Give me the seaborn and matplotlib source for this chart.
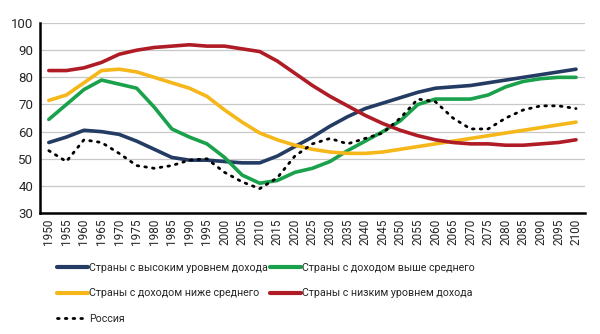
import numpy as np
import pandas as pd
import matplotlib
matplotlib.use("Agg")
import matplotlib.pyplot as plt
import seaborn as sns
from matplotlib.lines import Line2D

years = list(range(1950, 2101, 5))

high_income = [56, 58, 60.5, 60, 59, 56.5, 53.5, 50.5, 49.5, 49.5, 49, 48.5, 48.5, 51, 54.5,
               58, 62, 65.5, 68.5, 70.5, 72.5, 74.5, 76, 76.5, 77, 78, 79, 80, 81, 82, 83]
upper_middle = [64.5, 70, 75.5, 79, 77.5, 76, 69, 61, 58, 55.5, 50.5, 44, 41, 42, 45,
                46.5, 49, 53, 56.5, 60, 64, 70, 72, 72, 72, 73.5, 76.5, 78.5, 79.5, 80, 80]
lower_middle = [71.5, 73.5, 78, 82.5, 83, 82, 80, 78, 76, 73, 68, 63.5, 59.5, 57, 55,
                53.5, 52.5, 52, 52, 52.5, 53.5, 54.5, 55.5, 56.5, 57.5, 58.5, 59.5, 60.5, 61.5, 62.5, 63.5]
low_income = [82.5, 82.5, 83.5, 85.5, 88.5, 90, 91, 91.5, 92, 91.5, 91.5, 90.5, 89.5, 86, 81.5,
              77, 73, 69.5, 66, 63, 60.5, 58.5, 57, 56, 55.5, 55.5, 55, 55, 55.5, 56, 57]
russia = [53, 49, 57, 56, 52, 47.5, 46.5, 47.5, 49.5, 50, 45, 41.5, 39, 43, 51,
          55.5, 57.5, 55.5, 57.5, 59.5, 65, 72, 71, 65, 61, 61, 65, 68, 69.5, 69.5, 68.5]

labels = ["Страны с высоким уровнем дохода",
          "Страны с доходом выше среднего",
          "Страны с доходом ниже среднего",
          "Страны с низким уровнем дохода",
          "Россия"]
colors = ["#243c64", "#1aa14c", "#f5b719", "#b01c26", "#000000"]
series = [high_income, upper_middle, lower_middle, low_income, russia]

sns.set_style("white")
plt.rcParams['font.family'] = ['Roboto', 'DejaVu Sans']

fig = plt.figure(figsize=(6.0, 3.34), dpi=100)
ax = fig.add_axes([0.0667, 0.362, 0.908, 0.569])

df = pd.DataFrame({"year": years * 5,
                   "value": sum(series, []),
                   "group": sum([[l] * len(years) for l in labels], [])})

for lab, col in zip(labels, colors):
    sub = df[df["group"] == lab]
    if lab == "Россия":
        sns.lineplot(data=sub, x="year", y="value", ax=ax, color=col, lw=2.0,
                     linestyle=(0, (0.6, 2.2)), dash_capstyle="round", legend=False)
    else:
        sns.lineplot(data=sub, x="year", y="value", ax=ax, color=col, lw=2.6,
                     solid_joinstyle="round", solid_capstyle="round", legend=False)

ax.set_xlim(1947.5, 2102.5)
ax.set_ylim(30, 100)
ax.set_yticks(range(30, 101, 10))
ax.set_xticks(years)
ax.set_xticklabels([str(y) for y in years], rotation=90, fontsize=8.5)
ax.set_xticks(np.arange(1952.5, 2102.5, 5), minor=True)
ax.tick_params(axis='x', which='major', length=0, pad=4)
ax.tick_params(axis='x', which='minor', length=3, width=1, direction='out', color='black')
ax.tick_params(axis='y', which='major', length=3, width=1, direction='out', labelsize=9.5, pad=2, color='black')
ax.yaxis.grid(True, color="#c8c8c8", lw=0.9)
ax.set_axisbelow(True)
ax.set_xlabel("")
ax.set_ylabel("")
for s in ["top", "right"]:
    ax.spines[s].set_visible(False)
for s in ["left", "bottom"]:
    ax.spines[s].set_color("black")
    ax.spines[s].set_linewidth(1.8)

handles = []
for lab, col in zip(labels, colors):
    if lab == "Россия":
        handles.append(Line2D([], [], color=col, lw=2.0, linestyle=(0, (0.6, 2.2)), dash_capstyle="round"))
    else:
        handles.append(Line2D([], [], color=col, lw=3))
order = [0, 2, 4, 1, 3]
fig.legend([handles[i] for i in order], [labels[i] for i in order],
           loc="upper left", bbox_to_anchor=(0.095, 0.212), ncol=2, frameon=False,
           fontsize=7.7, handlelength=2.9, handletextpad=0.1, columnspacing=0.15,
           labelspacing=1.42, borderaxespad=0, borderpad=0)

fig.savefig("out.png", dpi=100)
